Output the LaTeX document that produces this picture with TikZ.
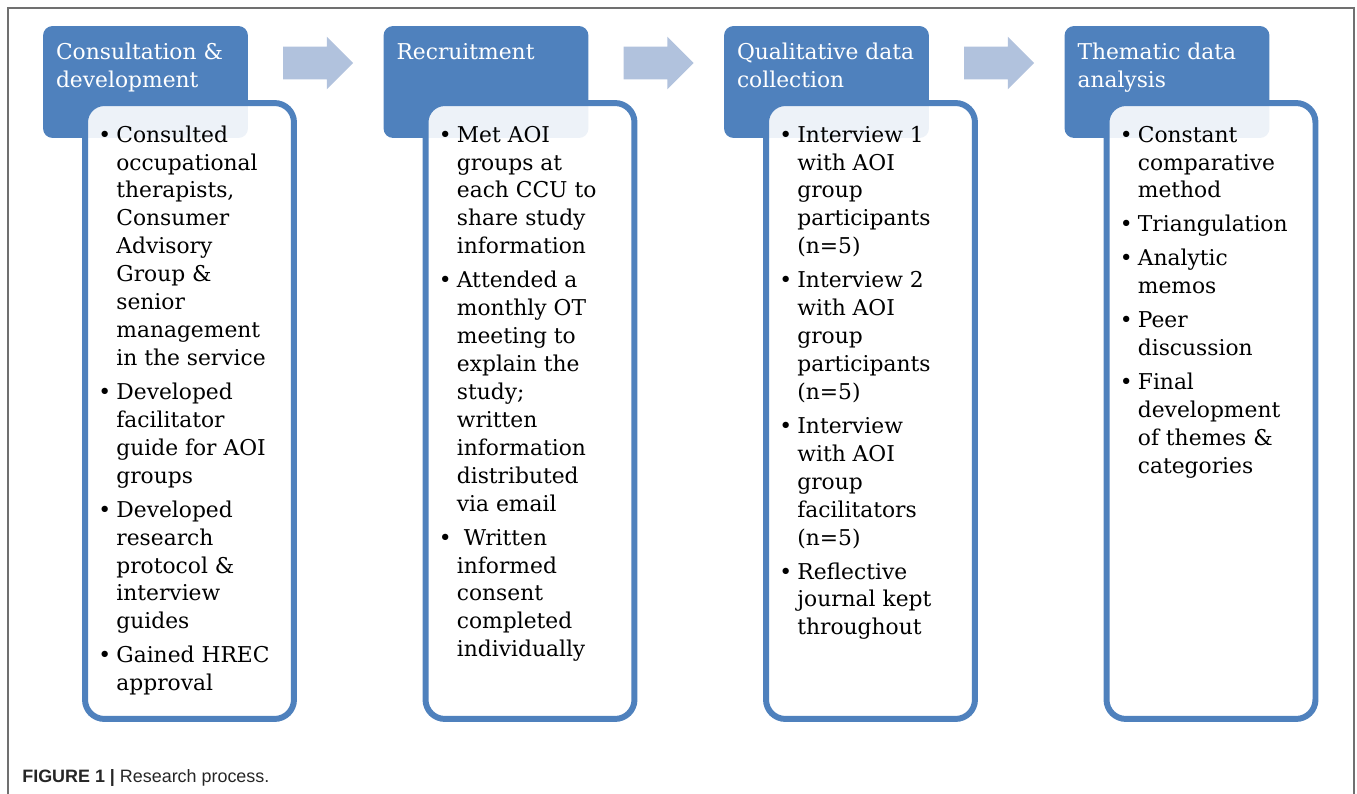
\documentclass[tikz,border=0pt]{standalone}
\usepackage{xcolor}
\usepackage{fontspec}
\setmainfont{DejaVu Serif}
\newfontfamily\captionfont{Liberation Sans}
\usepackage{tikz}
\usetikzlibrary{shapes.arrows,calc}

\definecolor{stageblue}{RGB}{79,129,189}
\definecolor{arrowblue}{RGB}{177,194,221}
\definecolor{framegray}{RGB}{112,112,112}
\newcommand{\stagefont}{\fontsize{12.4pt}{15.9pt}\selectfont}

\begin{document}
\begin{tikzpicture}[x=0.02cm, y=-0.02cm,
  stagehead/.style={fill=stageblue, rounded corners=5.5pt, minimum width=4.1cm, minimum height=2.24cm, inner sep=0pt},
  stagebody/.style={draw=stageblue, line width=3.4pt, fill=white, fill opacity=0.9, rounded corners=11pt, minimum width=4.18cm, minimum height=12.32cm, inner sep=0pt},
  headtext/.style={anchor=base west, text=white, font=\stagefont, inner sep=0pt},
  bodytext/.style={anchor=base west, text=black, font=\stagefont, inner sep=0pt},
  stagearrow/.style={single arrow, fill=arrowblue, minimum height=1.4cm, single arrow head extend=0.2cm, inner xsep=0pt, inner ysep=0.32cm}]
\useasboundingbox (0,0) rectangle (1357,794);

% frame
\draw[framegray, line width=1.1pt] (8,794) -- (8,8) -- (1354,8) -- (1354,794);

% stage headers
\node[stagehead] (h1) at (145.5,82) {};
\node[stagehead] (h2) at (486,82) {};
\node[stagehead] (h3) at (826.5,82) {};
\node[stagehead] (h4) at (1167,82) {};

% stage bodies
\node[stagebody] (b1) at (189.5,411) {};
\node[stagebody] (b2) at (530,411) {};
\node[stagebody] (b3) at (870.5,411) {};
\node[stagebody] (b4) at (1211,411) {};

% arrows between stages
\node[stagearrow] (a1) at (310,63) {};
\node[stagearrow] (a2) at (650.5,63) {};
\node[stagearrow] (a3) at (991,63) {};

% header texts
\node[headtext] (t1) at ($(h1.north west)+(13,34)$) {\begin{tabular}[t]{@{}l@{}}Consultation \&\\ development\end{tabular}};
\node[headtext] (t2) at ($(h2.north west)+(13,34)$) {Recruitment};
\node[headtext] (t3) at ($(h3.north west)+(13,34)$) {\begin{tabular}[t]{@{}l@{}}Qualitative data\\ collection\end{tabular}};
\node[headtext] (t4) at ($(h4.north west)+(13,34)$) {\begin{tabular}[t]{@{}l@{}}Thematic data\\ analysis\end{tabular}};

% body texts
\node[bodytext] (l1) at ($(b1.north west)+(16,42)$) {\begin{tabular}[t]{@{}p{0.36cm}@{}l@{}}
\textbullet & Consulted\\
 & occupational\\
 & therapists,\\
 & Consumer\\
 & Advisory\\
 & Group \&\\
 & senior\\
 & management\\
 & in the service\\[3.4pt]
\textbullet & Developed\\
 & facilitator\\
 & guide for AOI\\
 & groups\\[3.4pt]
\textbullet & Developed\\
 & research\\
 & protocol \&\\
 & interview\\
 & guides\\[3.4pt]
\textbullet & Gained HREC\\
 & approval
\end{tabular}};
\node[bodytext] (l2) at ($(b2.north west)+(16,42)$) {\begin{tabular}[t]{@{}p{0.36cm}@{}l@{}}
\textbullet & Met AOI\\
 & groups at\\
 & each CCU to\\
 & share study\\
 & information\\[3.4pt]
\textbullet & Attended a\\
 & monthly OT\\
 & meeting to\\
 & explain the\\
 & study;\\
 & written\\
 & information\\
 & distributed\\
 & via email\\[3.4pt]
\textbullet & \ Written\\
 & informed\\
 & consent\\
 & completed\\
 & individually
\end{tabular}};
\node[bodytext] (l3) at ($(b3.north west)+(16,42)$) {\begin{tabular}[t]{@{}p{0.36cm}@{}l@{}}
\textbullet & Interview 1\\
 & with AOI\\
 & group\\
 & participants\\
 & (n=5)\\[3.4pt]
\textbullet & Interview 2\\
 & with AOI\\
 & group\\
 & participants\\
 & (n=5)\\[3.4pt]
\textbullet & Interview\\
 & with AOI\\
 & group\\
 & facilitators\\
 & (n=5)\\[3.4pt]
\textbullet & Reflective\\
 & journal kept\\
 & throughout
\end{tabular}};
\node[bodytext] (l4) at ($(b4.north west)+(16,42)$) {\begin{tabular}[t]{@{}p{0.36cm}@{}l@{}}
\textbullet & Constant\\
 & comparative\\
 & method\\[3.4pt]
\textbullet & Triangulation\\[3.4pt]
\textbullet & Analytic\\
 & memos\\[3.4pt]
\textbullet & Peer\\
 & discussion\\[3.4pt]
\textbullet & Final\\
 & development\\
 & of themes \&\\
 & categories
\end{tabular}};

% caption
\node[anchor=base west, inner sep=0pt, text=black!85, font=\captionfont\fontsize{10.2pt}{12pt}\selectfont] (cap) at (22,782) {\textbf{FIGURE 1 |} Research process.};
\end{tikzpicture}
\end{document}
